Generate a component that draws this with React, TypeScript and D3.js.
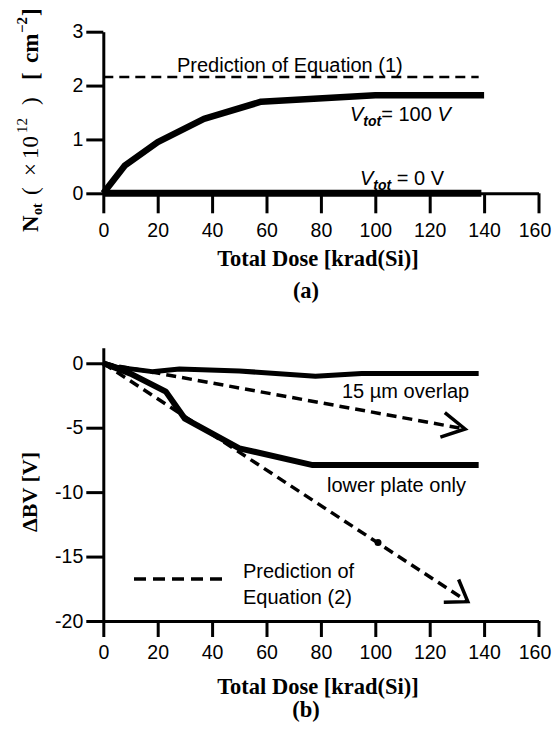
import React, { useRef, useEffect } from 'react';
import * as d3 from 'd3';

// shared x axis
const doseTicks = [0, 20, 40, 60, 80, 100, 120, 140, 160];

// panel (a): trapped charge
const notTicks = [0, 1, 2, 3];
const v100Dose = [0, 8, 20, 37, 58, 100, 140];
const v100Not = [0, 0.52, 0.95, 1.38, 1.7, 1.82, 1.82];
const v0Dose = [0, 139];
const v0Not = [0, 0];
const eq1Dose = [0, 138];
const eq1Not = [2.16, 2.16];

// panel (b): breakdown voltage shift
const bvTicks = [0, -5, -10, -15, -20];
const overlapDose = [0, 5, 18, 28, 50, 78, 95, 138];
const overlapBV = [0, -0.3, -0.65, -0.45, -0.6, -1.0, -0.8, -0.8];
const lowerDose = [0, 10, 23, 30, 50, 77, 138];
const lowerBV = [0, -0.8, -2.2, -4.3, -6.6, -7.9, -7.9];
const eq2OverlapDose = [0, 133];
const eq2OverlapBV = [0, -5.1];
const eq2LowerDose = [0, 134];
const eq2LowerBV = [0, -18.5];
const dotDose = [101];
const dotBV = [-13.9];

const SANS = '"Liberation Sans", Arial, sans-serif';
const SERIF = '"Liberation Serif", "Times New Roman", serif';

const App = () => {
  const svgRef = useRef<SVGSVGElement | null>(null);

  useEffect(() => {
    const svg = d3.select(svgRef.current);
    svg.selectAll('*').remove();

    const x = d3.scaleLinear().domain([0, 160]).range([103.3, 538.5]);
    const yA = d3.scaleLinear().domain([0, 3]).range([193.3, 31.7]);
    const yB = d3.scaleLinear().domain([-20, 1.2]).range([621, 347.8]);

    const styleAxis = (g) => {
      g.attr('font-size', 19.5).attr('font-family', SANS);
      g.select('.domain').attr('stroke-width', 3);
      g.selectAll('.tick line').attr('stroke-width', 3);
      g.selectAll('.tick text').attr('fill', '#000');
    };
    // last label sits against the right edge in the original
    const nudgeLast = (g) => {
      g.selectAll('.tick text').filter(d => d === 160).attr('dx', -4);
    };

    // ---- panel (a)
    svg.append('g')
      .attr('transform', `translate(0,${yA(0)})`)
      .call(d3.axisBottom(x).tickValues(doseTicks).tickSize(20).tickSizeOuter(0).tickPadding(10))
      .call(styleAxis).call(nudgeLast);
    svg.append('g')
      .attr('transform', `translate(${x(0)},0)`)
      .call(d3.axisLeft(yA).tickValues(notTicks).tickFormat(d3.format('d')).tickSize(17).tickSizeOuter(0).tickPadding(3))
      .call(styleAxis);

    const lineA = d3.line<[number, number]>().x(d => x(d[0])).y(d => yA(d[1]));
    const lineB = d3.line<[number, number]>().x(d => x(d[0])).y(d => yB(d[1]));

    svg.append('path')
      .attr('d', lineA(d3.zip(eq1Dose, eq1Not) as [number, number][]))
      .attr('fill', 'none').attr('stroke', '#000')
      .attr('stroke-width', 2.5).attr('stroke-dasharray', '10,6');
    svg.append('path')
      .attr('d', lineA(d3.zip(v0Dose, v0Not) as [number, number][]))
      .attr('fill', 'none').attr('stroke', '#000').attr('stroke-width', 7);
    svg.append('path')
      .attr('d', lineA(d3.zip(v100Dose, v100Not) as [number, number][]))
      .attr('fill', 'none').attr('stroke', '#000')
      .attr('stroke-width', 6.5).attr('stroke-linejoin', 'round');

    svg.append('text')
      .attr('x', 177).attr('y', 72)
      .attr('font-family', SANS).attr('font-size', 20)
      .text('Prediction of Equation (1)');

    const vLabel = (xp, yp, value, upright) => {
      const t = svg.append('text')
        .attr('x', xp).attr('y', yp)
        .attr('font-family', SANS).attr('font-size', 20);
      t.append('tspan').attr('font-style', 'italic').text('V');
      t.append('tspan').attr('font-style', 'italic').attr('font-weight', 'bold')
        .attr('font-size', 14).attr('dy', 5).text('tot');
      t.append('tspan').attr('dy', -5).text(`${upright ? '  ' : ''}= ${value} `);
      t.append('tspan').attr('font-style', upright ? 'normal' : 'italic').text('V');
    };
    vLabel(350, 121, '100', false);
    vLabel(360, 185, '0', true);

    // y label (a), pieces spread out along the axis as in the original
    const la = svg.append('text')
      .attr('transform', 'translate(38,0) rotate(-90)')
      .attr('font-family', SERIF).attr('font-size', 23);
    la.append('tspan').attr('x', -232).attr('y', 0).attr('font-weight', 'bold').text('N');
    la.append('tspan').attr('x', -215).attr('y', 4).attr('font-weight', 'bold').attr('font-size', 14).text('ot');
    la.append('tspan').attr('x', -195).attr('y', 0).text('(');
    la.append('tspan').attr('x', -176).attr('y', 0).text('×');
    la.append('tspan').attr('x', -159).attr('y', 0).text('10');
    la.append('tspan').attr('x', -133).attr('y', -11).attr('font-size', 15).text('12');
    la.append('tspan').attr('x', -105).attr('y', 0).text(')');
    la.append('tspan').attr('x', -80).attr('y', 0).attr('font-weight', 'bold').text('[');
    la.append('tspan').attr('x', -63).attr('y', 0).attr('font-weight', 'bold').text('cm');
    la.append('tspan').attr('x', -33).attr('y', -11).attr('font-weight', 'bold').attr('font-size', 15).text('−2');
    la.append('tspan').attr('x', -16).attr('y', 0).attr('font-weight', 'bold').text(']');

    svg.append('text')
      .attr('x', 318).attr('y', 266).attr('text-anchor', 'middle')
      .attr('font-family', SERIF).attr('font-weight', 'bold').attr('font-size', 22.5)
      .text('Total Dose [krad(Si)]');
    svg.append('text')
      .attr('x', 306).attr('y', 298).attr('text-anchor', 'middle')
      .attr('font-family', SERIF).attr('font-weight', 'bold').attr('font-size', 22.5)
      .text('(a)');

    // ---- panel (b)
    svg.append('g')
      .attr('transform', `translate(0,${yB(-20)})`)
      .call(d3.axisBottom(x).tickValues(doseTicks).tickSize(16).tickSizeOuter(0).tickPadding(8))
      .call(styleAxis).call(nudgeLast);
    svg.append('g')
      .attr('transform', `translate(${x(0)},0)`)
      .call(d3.axisLeft(yB).tickValues(bvTicks).tickFormat(d => String(d)).tickSize(17).tickSizeOuter(0).tickPadding(3))
      .call(styleAxis);

    const arrowHead = (pts: [number, number][], len: number, ang: number) => {
      const [x1, y1] = [x(pts[0][0]), yB(pts[0][1])];
      const [x2, y2] = [x(pts[1][0]), yB(pts[1][1])];
      const a = Math.atan2(y2 - y1, x2 - x1);
      svg.append('path')
        .attr('d', `M${x2 - len * Math.cos(a - ang)},${y2 - len * Math.sin(a - ang)}L${x2},${y2}L${x2 - len * Math.cos(a + ang)},${y2 - len * Math.sin(a + ang)}`)
        .attr('fill', 'none').attr('stroke', '#000').attr('stroke-width', 3.5)
        .attr('stroke-linejoin', 'miter');
    };

    const eqO = d3.zip(eq2OverlapDose, eq2OverlapBV) as [number, number][];
    const eqL = d3.zip(eq2LowerDose, eq2LowerBV) as [number, number][];
    [eqO, eqL].forEach(pts => {
      svg.append('path')
        .attr('d', lineB(pts))
        .attr('fill', 'none').attr('stroke', '#000')
        .attr('stroke-width', 3.5).attr('stroke-dasharray', '10,6');
    });
    arrowHead(eqO, 26, 0.5);
    arrowHead(eqL, 24, 0.6);

    svg.selectAll('.dot')
      .data(d3.zip(dotDose, dotBV))
      .enter()
      .append('circle')
      .attr('cx', d => x(d[0])).attr('cy', d => yB(d[1])).attr('r', 3.5);

    svg.append('path')
      .attr('d', lineB(d3.zip(overlapDose, overlapBV) as [number, number][]))
      .attr('fill', 'none').attr('stroke', '#000')
      .attr('stroke-width', 5).attr('stroke-linejoin', 'round');
    svg.append('path')
      .attr('d', lineB(d3.zip(lowerDose, lowerBV) as [number, number][]))
      .attr('fill', 'none').attr('stroke', '#000')
      .attr('stroke-width', 6).attr('stroke-linejoin', 'round');

    svg.append('text')
      .attr('x', 342).attr('y', 398)
      .attr('font-family', SANS).attr('font-size', 20)
      .text('15 µm overlap');
    svg.append('text')
      .attr('x', 327).attr('y', 492)
      .attr('font-family', SANS).attr('font-size', 20)
      .text('lower plate only');

    // legend
    svg.append('line')
      .attr('x1', 134).attr('x2', 228).attr('y1', 579).attr('y2', 579)
      .attr('stroke', '#000').attr('stroke-width', 3.5).attr('stroke-dasharray', '12,7');
    svg.append('text')
      .attr('x', 243).attr('y', 578)
      .attr('font-family', SANS).attr('font-size', 20)
      .text('Prediction of');
    svg.append('text')
      .attr('x', 243).attr('y', 604)
      .attr('font-family', SANS).attr('font-size', 20)
      .text('Equation (2)');

    svg.append('text')
      .attr('transform', 'translate(37,492) rotate(-90)')
      .attr('text-anchor', 'middle')
      .attr('font-family', SERIF).attr('font-weight', 'bold').attr('font-size', 22)
      .text('ΔBV [V]');

    svg.append('text')
      .attr('x', 318).attr('y', 694).attr('text-anchor', 'middle')
      .attr('font-family', SERIF).attr('font-weight', 'bold').attr('font-size', 22.5)
      .text('Total Dose [krad(Si)]');
    svg.append('text')
      .attr('x', 306).attr('y', 717).attr('text-anchor', 'middle')
      .attr('font-family', SERIF).attr('font-weight', 'bold').attr('font-size', 22.5)
      .text('(b)');

    return () => {
      d3.select(svgRef.current).selectAll('*').remove();
    };
  }, []);

  return (
    <svg ref={svgRef} width={553} height={734}
      style={{ position: 'absolute', left: 0, top: 0, background: '#fff' }} />
  );
};

export default App;
